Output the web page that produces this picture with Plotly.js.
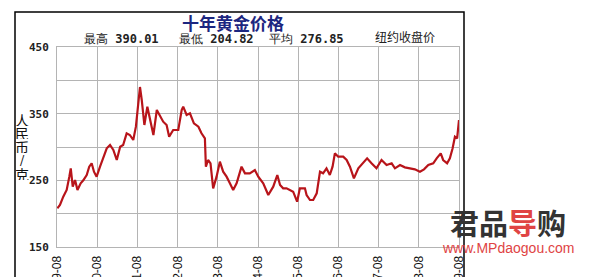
<!DOCTYPE html>
<html>
<head>
<meta charset="utf-8">
<script src="https://cdn.plot.ly/plotly-3.0.1.min.js"></script>
<style>html,body{margin:0;padding:0;background:#fff;}#chart{width:593px;height:277px;}</style>
</head>
<body>
<div id="chart"></div>
<script>
const dates = [
"1999-08-04","1999-08-28","1999-09-27","1999-10-28","1999-11-21","1999-12-04","1999-12-22","2000-01-12","2000-02-03","2000-03-03",
"2000-03-27","2000-04-27","2000-05-20","2000-06-11","2000-07-02","2000-07-26","2000-08-26","2000-09-25","2000-10-26","2000-11-25",
"2000-12-25","2001-01-25","2001-02-25","2001-03-24","2001-04-25","2001-05-24","2001-06-24","2001-07-18","2001-08-09","2001-08-24",
"2001-09-09","2001-10-03","2001-10-30","2001-11-24","2001-12-24","2002-01-24","2002-02-23","2002-03-23","2002-04-23","2002-05-16",
"2002-06-22","2002-08-07","2002-09-07","2002-09-21","2002-10-22","2002-11-21","2002-12-27","2003-02-06","2003-03-06","2003-04-06",
"2003-04-15","2003-05-05","2003-05-27","2003-06-20","2003-07-21","2003-08-20","2003-09-19","2003-10-20","2003-11-19","2003-12-19",
"2004-01-19","2004-03-04","2004-04-04","2004-05-18","2004-07-03","2004-08-03","2004-09-17","2004-11-02","2004-12-17","2005-01-23",
"2005-02-17","2005-03-17","2005-04-17","2005-06-16","2005-07-22","2005-08-16","2005-10-01","2005-10-16","2005-11-16","2005-12-15",
"2006-01-16","2006-02-15","2006-03-15","2006-04-15","2006-05-15","2006-06-09","2006-06-30","2006-07-30","2006-09-14","2006-10-15",
"2006-11-14","2006-12-20","2007-01-29","2007-03-13","2007-04-19","2007-05-29","2007-07-13","2007-08-28","2007-10-13","2007-11-28",
"2007-12-28","2008-02-12","2008-03-27","2008-05-12","2008-06-26","2008-08-11","2008-09-17","2008-10-26","2008-12-10","2009-01-10",
"2009-02-16","2009-03-10","2009-04-15","2009-05-10","2009-06-04","2009-06-25","2009-07-15","2009-08-01"
];
const prices = [
208,213,225.5,235.5,255.5,268,240.5,250.5,235.5,245.5,
250,258,270.5,275.5,263,255.5,270.5,283,298,303,
295.5,280.5,300.5,303,320.5,318,310.5,330.5,370.5,390.01,
370.5,333,360.5,340.5,318,355.5,345.5,338,333,315.5,
325.5,325.5,355.5,360.5,348,350.5,335.5,330.5,320.5,313,
270.5,280.5,275.5,238,255.5,278,263,255.5,245.5,235.5,
245.5,270.5,260.5,260.5,265.5,255.5,245.5,228,240.5,258,
243,238,238,233,218,238,238,228,220.5,220.5,
230.5,263,260.5,268,258,270.5,290.5,285.5,285.5,280.5,
270.5,253,268,275.5,283,275.5,268,280.5,273,275.5,
268,273,269.5,268,266.5,263,266.5,273,275.5,283,
290.5,280.5,275.5,283,298,315.5,313,340.5
];
const xTickVals = ["1999-08-01","2000-08-01","2001-08-01","2002-08-01","2003-08-01","2004-08-01","2005-08-01","2006-08-01","2007-08-01","2008-08-01","2009-08-01"];
const xTickText = ["1999-08","2000-08","2001-08","2002-08","2003-08","2004-08","2005-08","2006-08","2007-08","2008-08","2009-08"];
const yTickVals = [150,200,250,300,350,400,450];
const yTickText = ["150","","250","","350","","450"];
const title = "十年黄金价格";
const statHigh = "390.01", statLow = "204.82", statAvg = "276.85";
const yLabelChars = ["人","民","币","/","克"];

const trace = {
  x: dates, y: prices, type: "scatter", mode: "lines",
  line: {color: "#b8141a", width: 2.2}, hoverinfo: "skip"
};
const mono = "DejaVu Sans Mono, monospace";
const cjk = "Noto Sans CJK SC, sans-serif";
const P = (px) => (px - 57) / 402;
const Q = (py) => (247 - py) / 200;
const annotations = [
  {x: P(233), y: Q(22), xanchor: "center", text: "<b>" + title + "</b>", font: {family: cjk, size: 17, color: "#1c2680"}},
  {x: P(82), y: Q(39), xanchor: "left", text: "最高 <b>" + statHigh + "</b>", font: {family: mono, size: 12, color: "#222"}},
  {x: P(177), y: Q(39), xanchor: "left", text: "最低 <b>" + statLow + "</b>", font: {family: mono, size: 12, color: "#222"}},
  {x: P(267), y: Q(39), xanchor: "left", text: "平均 <b>" + statAvg + "</b>", font: {family: mono, size: 12, color: "#222"}},
  {x: P(373), y: Q(36), xanchor: "left", text: "纽约收盘价", font: {family: cjk, size: 12, color: "#222"}},
  {x: P(508), y: Q(222), xanchor: "center", text: "<b>君品<span style='color:#e04444'>导</span>购</b>", font: {family: cjk, size: 29, color: "#333"}},
  {x: P(508), y: Q(248), xanchor: "center", text: "www.MPdaogou.com", font: {family: "Liberation Sans, Arial, sans-serif", size: 14, color: "#e04444"}}
];
yLabelChars.forEach((c, i) => {
  annotations.push({x: P(22), y: Q(119 + i * 13.5), xanchor: "center", text: c, height: 13, borderpad: 0,
                    font: {family: cjk, size: 14, color: "#111"}});
});
annotations.forEach(a => { a.xref = "paper"; a.yref = "paper"; a.yanchor = "middle"; a.showarrow = false; });

const layout = {
  width: 593, height: 277,
  margin: {l: 57, r: 134, t: 47, b: 30, pad: 0},
  paper_bgcolor: "#ffffff", plot_bgcolor: "#ffffff",
  showlegend: false,
  xaxis: {
    type: "date", range: ["1999-08-01", "2009-08-01"],
    tickmode: "array", tickvals: xTickVals, ticktext: xTickText,
    tickangle: -90, showgrid: true, gridcolor: "#b4b4b4", gridwidth: 1,
    showline: true, linecolor: "#b4b4b4", mirror: true, zeroline: false,
    ticks: "", tickfont: {family: "Liberation Sans, Arial, sans-serif", size: 12, color: "#111"},
    ticklabelstandoff: 3, fixedrange: true
  },
  yaxis: {
    range: [150, 450], tickmode: "array", tickvals: yTickVals, ticktext: yTickText,
    showgrid: true, gridcolor: "#b4b4b4", gridwidth: 1,
    showline: true, linecolor: "#b4b4b4", mirror: true, zeroline: false,
    ticks: "", tickfont: {family: mono, size: 11, color: "#222", weight: "bold"},
    ticklabelstandoff: 5, fixedrange: true
  },
  shapes: [
    {type: "rect", xref: "paper", yref: "paper", x0: P(15), x1: P(464), y0: -0.5, y1: Q(12),
     line: {color: "#000", width: 1.5}, fillcolor: "rgba(0,0,0,0)", layer: "below"}
  ],
  annotations: annotations
};
Plotly.newPlot("chart", [trace], layout, {staticPlot: true, displayModeBar: false});
</script>
</body>
</html>
